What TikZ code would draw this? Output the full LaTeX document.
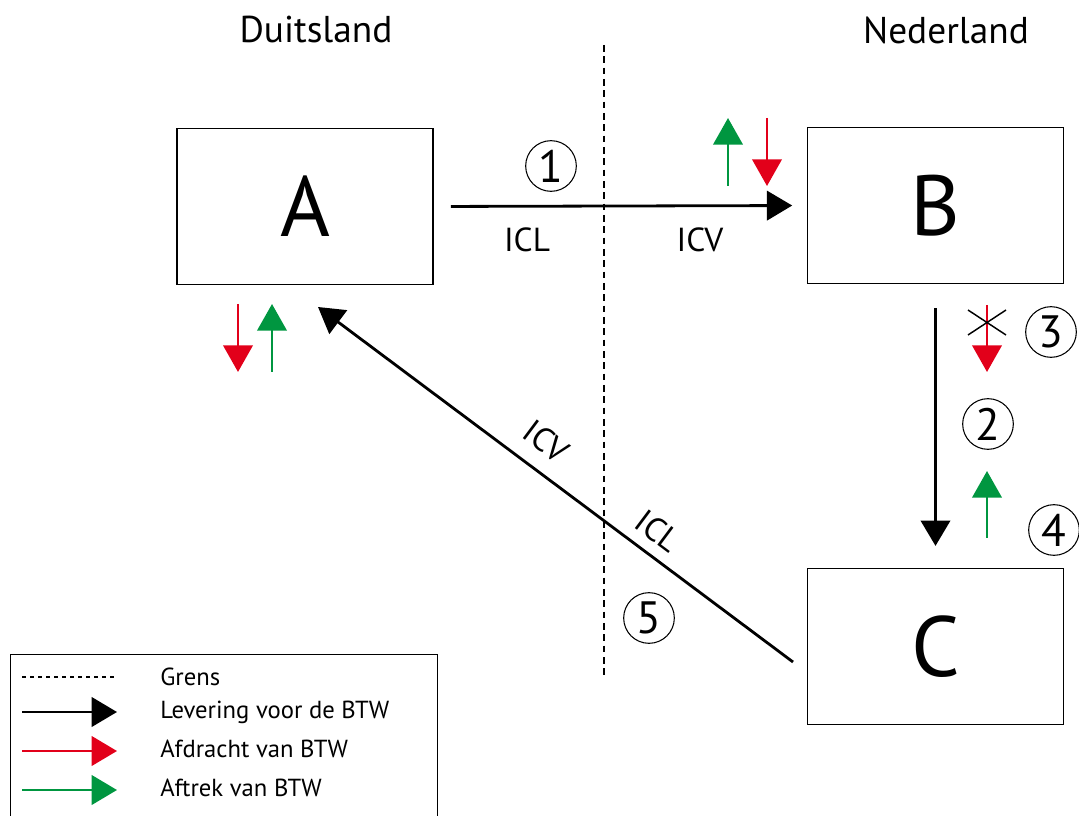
\documentclass[tikz,border=0pt]{standalone}
\usepackage{fontspec}
\setmainfont{PT Sans}
\usetikzlibrary{arrows.meta}
\definecolor{vred}{RGB}{226,0,26}
\definecolor{vgreen}{RGB}{0,150,64}
\begin{document}
\begin{tikzpicture}[x=0.75pt,y=-0.75pt,
  box/.style={draw,line width=0.9pt,minimum width=192pt,minimum height=117pt,inner sep=0pt,font=\fontsize{64}{70}\selectfont},
  num/.style={circle,draw,line width=0.8pt,minimum size=38pt,inner sep=0pt,font=\fontsize{34}{36}\selectfont},
  lbl/.style={font=\fontsize{25}{27}\selectfont,inner sep=0pt},
  title/.style={font=\fontsize{28}{30}\selectfont,inner sep=0pt},
  blk/.style={line width=2.1pt,-{Triangle[length=19pt,width=22pt]}},
  redarr/.style={vred,line width=2.2pt,-{Triangle[length=20pt,width=22pt]}},
  grnarr/.style={vgreen,line width=2.2pt,-{Triangle[length=20pt,width=22pt]}},
  legtxt/.style={font=\fontsize{18.5}{20}\selectfont,anchor=west,inner sep=0pt}]
\useasboundingbox (0,0) rectangle (1079,816);
% titles
\node[title] (tD) at (316,30) {Duitsland};
\node[title] (tN) at (946,30) {Nederland};
% border
\coordinate (g1) at (604,45);
\coordinate (g2) at (604,675);
\draw[line width=0.9pt,dash pattern=on 5pt off 3.5pt] (g1) -- (g2);
% boxes
\node[box] (A) at (305,206.5) {A};
\node[box] (B) at (935.5,205.5) {B};
\node[box] (C) at (935.5,646.5) {C};
% arrow 1
\draw[blk,shorten <=13pt,shorten >=11pt] (A.east) -- (B.west);
\node[num] (n1) at (551,166) {1};
\node[lbl] (icl1) at (527,240) {ICL};
\node[lbl] (icv1) at (700,240) {ICV};
% arrows at B
\coordinate (gb1) at (728,186);
\coordinate (gb2) at (728,118);
\draw[grnarr] (gb1) -- (gb2);
\coordinate (rb1) at (767,118);
\coordinate (rb2) at (767,186);
\draw[redarr] (rb1) -- (rb2);
% arrow 2
\draw[blk,shorten <=18pt,shorten >=16.5pt] (B.south) -- (C.north);
\coordinate (r3a) at (987,305);
\coordinate (r3b) at (987,372);
\draw[redarr] (r3a) -- (r3b);
\coordinate (x1) at (968,310);
\coordinate (x2) at (1006,335);
\coordinate (x3) at (968,335);
\coordinate (x4) at (1006,310);
\draw[line width=1.1pt] (x1) -- (x2) (x3) -- (x4);
\node[num] (n3) at (1051,332) {3};
\node[num] (n2) at (988,424) {2};
\coordinate (g4a) at (987,538);
\coordinate (g4b) at (987,471);
\draw[grnarr] (g4a) -- (g4b);
\node[num] (n4) at (1054,530) {4};
% arrow 5
\coordinate (c5s) at (793,662);
\coordinate (c5e) at (318,307);
\draw[blk] (c5s) -- (c5e);
\node[lbl,rotate=-36.8] (icv5) at (546,441) {ICV};
\node[lbl,rotate=-36.8] (icl5) at (658,531) {ICL};
\node[num] (n5) at (649,618) {5};
% arrows at A
\coordinate (ra1) at (238,304);
\coordinate (ra2) at (238,372);
\draw[redarr] (ra1) -- (ra2);
\coordinate (ga1) at (272,372);
\coordinate (ga2) at (272,304);
\draw[grnarr] (ga1) -- (ga2);
% legend
\node[draw,line width=0.9pt,minimum width=320.25pt,minimum height=130pt,anchor=north west,inner sep=0pt] (leg) at (10,654) {};
\coordinate (l1a) at (22,677);
\coordinate (l1b) at (117,677);
\draw[line width=0.8pt,dash pattern=on 3pt off 3pt] (l1a) -- (l1b);
\node[legtxt] (lt1) at (160,677) {Grens};
\coordinate (l2a) at (22,712);
\coordinate (l2b) at (117,712);
\draw[line width=2.2pt,-{Triangle[length=19pt,width=22pt]}] (l2a) -- (l2b);
\node[legtxt] (lt2) at (160,712) {Levering voor de BTW};
\coordinate (l3a) at (22,751);
\coordinate (l3b) at (117,751);
\draw[vred,line width=2.2pt,-{Triangle[length=19pt,width=22pt]}] (l3a) -- (l3b);
\node[legtxt] (lt3) at (160,749) {Afdracht van BTW};
\coordinate (l4a) at (22,790);
\coordinate (l4b) at (117,790);
\draw[vgreen,line width=2.2pt,-{Triangle[length=19pt,width=22pt]}] (l4a) -- (l4b);
\node[legtxt] (lt4) at (160,788) {Aftrek van BTW};
\end{tikzpicture}
\end{document}
